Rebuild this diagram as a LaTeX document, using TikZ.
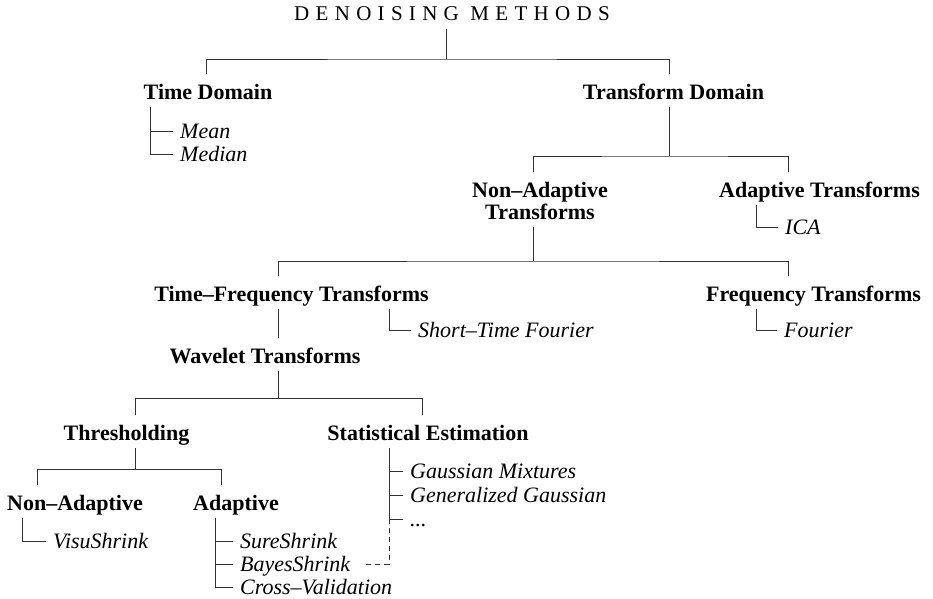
\documentclass[tikz,border=0pt]{standalone}
\usepackage{fontspec}
\setmainfont{Liberation Serif}
\begin{document}
\begin{tikzpicture}[x=1pt,y=-1pt,
  tree/.style={draw=black!80,line width=1pt},
  head/.style={font=\fontsize{22}{22}\selectfont\bfseries,anchor=base,
    inner xsep=0pt,inner ysep=8pt,text height=17pt,text depth=0pt},
  leaf/.style={font=\fontsize{22}{22}\selectfont\itshape,anchor=base west,
    inner xsep=7pt,inner ysep=0pt,text height=14pt,text depth=0pt}]
  \useasboundingbox (0,0) rectangle (933,598);

  %% Root
  \node[font=\fontsize{21}{21}\selectfont\addfontfeatures{LetterSpace=30},
    anchor=base,inner xsep=0pt,inner ysep=9pt,text depth=0pt] (title) at (452,20) {DENOISING METHODS};
  \node[head] (tdom) at (208,99) {Time Domain};
  \node[head] (trdom) at (673.5,99) {Transform Domain};
  \coordinate (j-root) at (446,59);
  \draw[tree] (title.south -| j-root) -- (j-root);
  \draw[tree] ([xshift=-2pt]tdom.north) |- (j-root) -| ([xshift=-4.5pt]trdom.north);

  \node[leaf] (mean) at (173,138) {Mean};
  \node[leaf] (median) at (173,161) {Median};
  \draw[tree] ([xshift=-58pt]tdom.south) |- (mean.west);
  \draw[tree] ([xshift=-58pt]tdom.south) |- (median.west);

  %% Transform domain
  \node[head,align=center,text height=39pt] (nadt) at (540,219) {Non–Adaptive\\Transforms};
  \node[head] (adt) at (819.5,197) {Adaptive Transforms};
  \coordinate (j-tr) at (669,156);
  \draw[tree] ([xshift=-4.5pt]trdom.south) -- (j-tr);
  \draw[tree] ([xshift=-7pt]nadt.north) |- (j-tr) -| ([xshift=-31.5pt]adt.north);
  \node[leaf] (ica) at (778,234) {ICA};
  \draw[tree] ([xshift=-63.5pt]adt.south) |- (ica.west);

  %% Non-adaptive transforms
  \node[head] (tft) at (291.5,301) {Time–Frequency Transforms};
  \node[head] (ft) at (813.5,301) {Frequency Transforms};
  \coordinate (j-na) at (533,261);
  \draw[tree] ([xshift=-7pt]nadt.south) -- (j-na);
  \draw[tree] ([xshift=-13.5pt]tft.north) |- (j-na) -| ([xshift=-25.5pt]ft.north);
  \node[leaf] (stft) at (411,337) {Short–Time Fourier};
  \node[leaf] (fourier) at (777,337) {Fourier};
  \draw[tree] ([xshift=97.5pt]tft.south) |- (stft.west);
  \draw[tree] ([xshift=-57.5pt]ft.south) |- (fourier.west);

  %% Wavelets
  \node[head] (wt) at (265,363) {Wavelet Transforms};
  \draw[tree] ([xshift=-13.5pt]tft.south) -- ([xshift=13pt]wt.north);
  \node[head] (thr) at (126.5,440) {Thresholding};
  \node[head] (se) at (428,440) {Statistical Estimation};
  \coordinate (j-wt) at (278,398);
  \draw[tree] ([xshift=13pt]wt.south) -- (j-wt);
  \draw[tree] ([xshift=8.5pt]thr.north) |- (j-wt) -| ([xshift=-6pt]se.north);

  \node[head] (nad) at (75,510) {Non–Adaptive};
  \node[head] (ad) at (236,510) {Adaptive};
  \coordinate (j-thr) at (135,469);
  \draw[tree] ([xshift=8.5pt]thr.south) -- (j-thr);
  \draw[tree] ([xshift=-38pt]nad.north) |- (j-thr) -| ([xshift=-15pt]ad.north);

  \node[leaf] (gm) at (403,478) {Gaussian Mixtures};
  \node[leaf] (gg) at (403,502) {Generalized Gaussian};
  \node[leaf] (dots) at (403,526) {...};
  \coordinate (se-stem) at ([xshift=-39pt]se.south);
  \foreach \n in {gm,gg,dots}
    \draw[tree] (se-stem) |- (\n.west);

  \node[leaf] (visu) at (46,548) {VisuShrink};
  \draw[tree] ([xshift=-53pt]nad.south) |- (visu.west);
  \node[leaf] (sure) at (233,548) {SureShrink};
  \node[leaf] (bayes) at (233,571) {BayesShrink};
  \node[leaf] (cross) at (233,594) {Cross–Validation};
  \foreach \n in {sure,bayes,cross}
    \draw[tree] ([xshift=-21pt]ad.south) |- (\n.west);

  %% link from estimation to BayesShrink
  \draw[tree,dash pattern=on 5pt off 4pt] (se-stem |- dots.west) |- ([xshift=5pt]bayes.east);
\end{tikzpicture}
\end{document}
